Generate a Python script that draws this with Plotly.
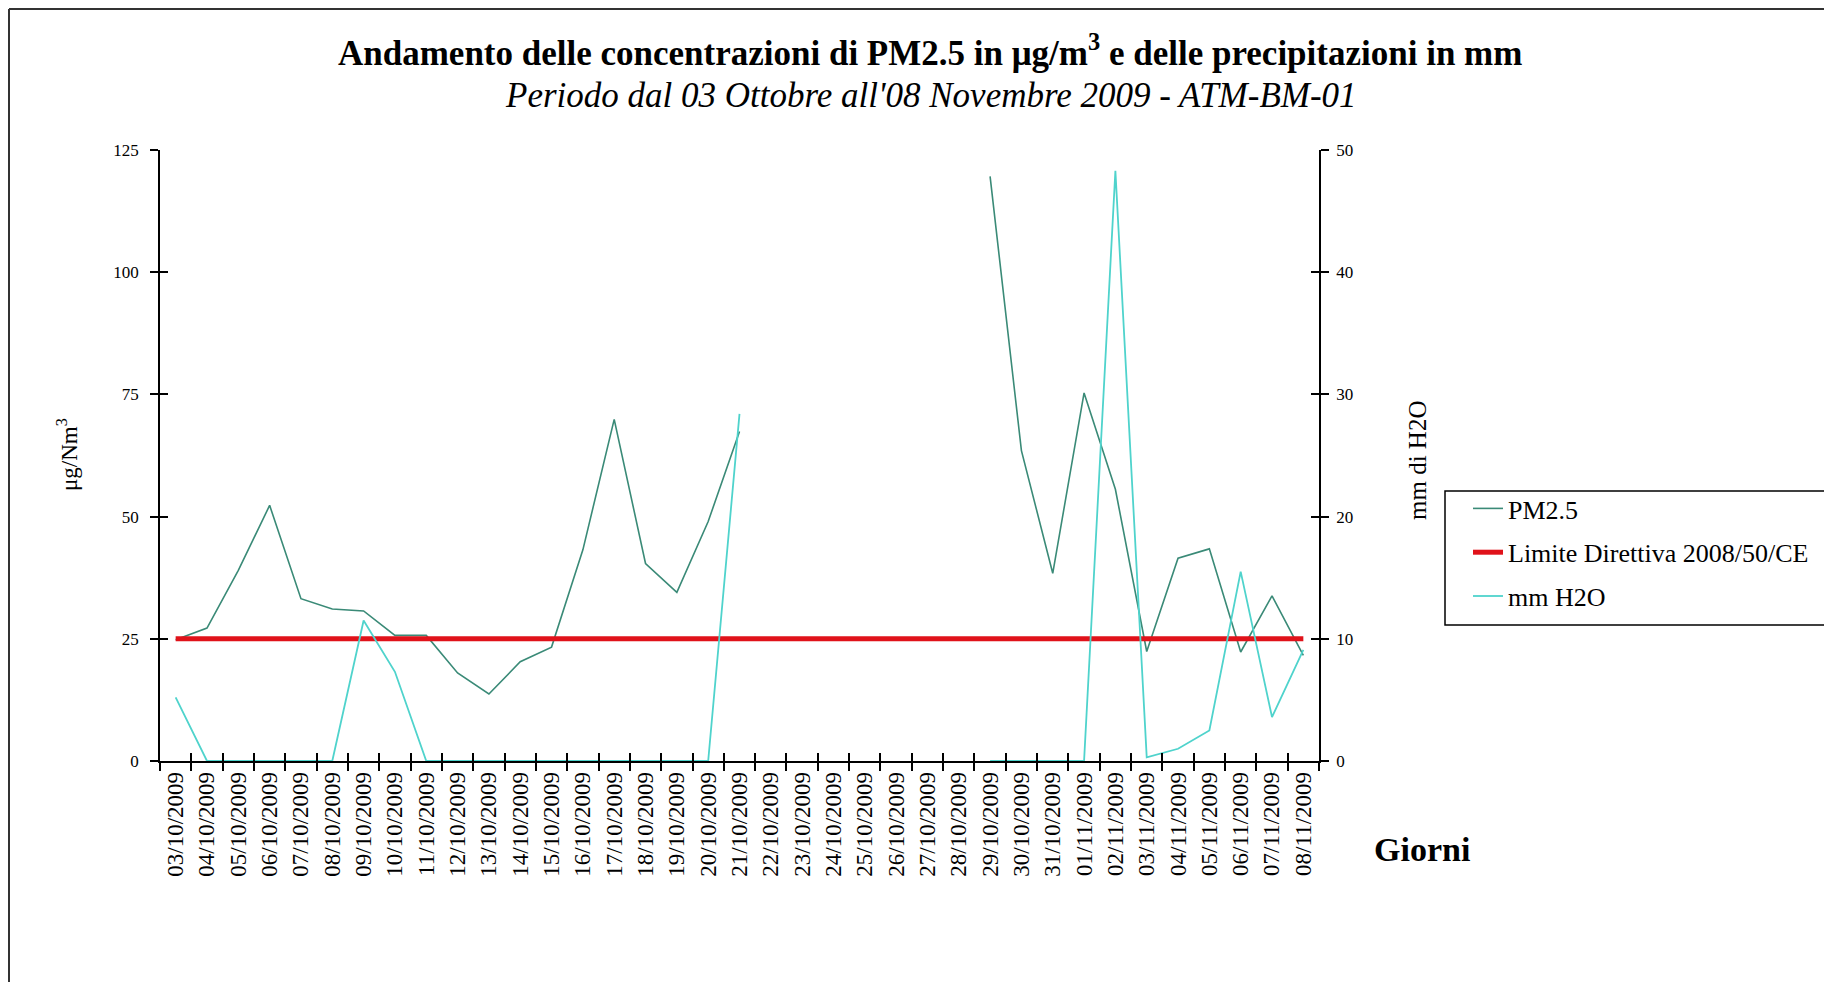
import plotly.graph_objects as go

dates = ["03/10/2009", "04/10/2009", "05/10/2009", "06/10/2009", "07/10/2009", "08/10/2009",
         "09/10/2009", "10/10/2009", "11/10/2009", "12/10/2009", "13/10/2009", "14/10/2009",
         "15/10/2009", "16/10/2009", "17/10/2009", "18/10/2009", "19/10/2009", "20/10/2009",
         "21/10/2009", "22/10/2009", "23/10/2009", "24/10/2009", "25/10/2009", "26/10/2009",
         "27/10/2009", "28/10/2009", "29/10/2009", "30/10/2009", "31/10/2009", "01/11/2009",
         "02/11/2009", "03/11/2009", "04/11/2009", "05/11/2009", "06/11/2009", "07/11/2009",
         "08/11/2009"]

pm25 = [24.8, 27.2, 39.0, 52.3, 33.2, 31.1, 30.7, 25.7, 25.7, 18.0, 13.7, 20.3, 23.3, 43.2,
        69.9, 40.4, 34.5, 49.0, 67.4, None, None, None, None, None, None, None,
        119.6, 63.5, 38.4, 75.3, 55.6, 22.4, 41.5, 43.4, 22.3, 33.8, 21.6]

limite = [25] * 37

mm_h2o = [5.2, 0, 0, 0, 0, 0, 11.5, 7.3, 0, 0, 0, 0, 0, 0, 0, 0, 0, 0, 28.4,
          None, None, None, None, None, None, None,
          0, 0, 0, 0, 48.3, 0.3, 1.0, 2.5, 15.5, 3.6, 9.1]

left_ticks = [0, 25, 50, 75, 100, 125]
right_ticks = [0, 10, 20, 30, 40, 50]

SERIF = "Liberation Serif"
PM_COLOR = "#3A8A77"
H2O_COLOR = "#4FD3CC"
RED = "#E0121A"

fig = go.Figure()

fig.add_trace(go.Scatter(x=dates, y=pm25, name="PM2.5", mode="lines",
                         line=dict(color=PM_COLOR, width=1.6), connectgaps=False,
                         legendgroup="a", xaxis="x", yaxis="y"))
fig.add_trace(go.Scatter(x=dates, y=limite, name="Limite Direttiva 2008/50/CE", mode="lines",
                         line=dict(color=RED, width=5), legendgroup="b", xaxis="x", yaxis="y"))
fig.add_trace(go.Scatter(x=dates, y=mm_h2o, name="mm H2O", mode="lines",
                         line=dict(color=H2O_COLOR, width=1.8), connectgaps=False,
                         legendgroup="c", xaxis="x", yaxis="y2"))
# invisible helper traces for the inner halves of the crossing tick marks
fig.add_trace(go.Scatter(x=dates, y=[None] * 37, showlegend=False, hoverinfo="skip",
                         xaxis="x2", yaxis="y3"))
fig.add_trace(go.Scatter(x=dates, y=[None] * 37, showlegend=False, hoverinfo="skip",
                         xaxis="x2", yaxis="y4"))

# page body has an 8px margin: work in screen coordinates and shift
OFF = 8
W, H = 1832 - OFF, 982 - OFF
L, R, T, B = 160 - OFF, 1319 - OFF, 150 - OFF, 761 - OFF


def px(X):
    return (X - OFF - L) / (R - L)


def py(Y):
    return (B - (Y - OFF)) / (B - T)


axis_common = dict(showgrid=False, zeroline=False, color="black")

fig.update_layout(
    width=W, height=H, autosize=False,
    margin=dict(l=L, r=W - R, t=T, b=H - B, pad=0),
    paper_bgcolor="white", plot_bgcolor="white",
    font=dict(family=SERIF, color="black", size=16),
    showlegend=True,
    xaxis=dict(type="category", categoryorder="array", categoryarray=dates,
               range=[-0.5, 36.5], tickson="boundaries", ticks="outside", ticklen=8,
               tickwidth=1.5, tickcolor="black", showline=True, linecolor="black",
               linewidth=1.5, tickangle=-90, tickfont=dict(family=SERIF, size=23),
               ticklabelstandoff=0, anchor="y", **axis_common),
    xaxis2=dict(type="category", categoryorder="array", categoryarray=dates,
                range=[-0.5, 36.5], tickson="boundaries", ticks="inside", ticklen=8,
                tickwidth=1.5, tickcolor="black", showline=False, showticklabels=False,
                overlaying="x", anchor="y3", **axis_common),
    yaxis=dict(range=[0, 125], tickvals=left_ticks, ticks="outside", ticklen=8,
               tickwidth=1.5, tickcolor="black", showline=True, linecolor="black",
               linewidth=1.5, tickfont=dict(family=SERIF, size=17), anchor="x",
               ticklabelstandoff=8, **axis_common),
    yaxis2=dict(range=[0, 50], tickvals=right_ticks, ticks="outside", ticklen=8,
                tickwidth=1.5, tickcolor="black", showline=True, linecolor="black",
                linewidth=1.5, tickfont=dict(family=SERIF, size=17), side="right",
                overlaying="y", anchor="x", ticklabelstandoff=4, **axis_common),
    yaxis3=dict(range=[0, 125], tickvals=left_ticks, ticks="inside", ticklen=8,
                tickwidth=1.5, tickcolor="black", showline=False, showticklabels=False,
                overlaying="y", anchor="x2", side="left", **axis_common),
    yaxis4=dict(range=[0, 50], tickvals=right_ticks, ticks="inside", ticklen=8,
                tickwidth=1.5, tickcolor="black", showline=False, showticklabels=False,
                overlaying="y", anchor="x2", side="right", **axis_common),
    legend=dict(x=px(1468), y=py(485), xanchor="left", yanchor="top",
                bgcolor="rgba(0,0,0,0)", borderwidth=0, tracegroupgap=7,
                font=dict(family=SERIF, size=26, color="black"), itemwidth=30),
)

annotations = [
    dict(text="<b>Andamento delle concentrazioni di PM2.5 in μg/m<sup>3</sup> e delle precipitazioni in mm</b>",
         x=px(930), y=py(51), font=dict(family=SERIF, size=35, color="black")),
    dict(text="<i>Periodo dal 03 Ottobre all'08 Novembre 2009 - ATM-BM-01</i>",
         x=px(931), y=py(96), font=dict(family=SERIF, size=35, color="black")),
    dict(text="μg/Nm<sup>3</sup>", x=px(67), y=py(455), textangle=-90,
         font=dict(family=SERIF, size=23, color="black")),
    dict(text="mm di H2O", x=px(1417), y=py(460), textangle=-90,
         font=dict(family=SERIF, size=25, color="black")),
    dict(text="<b>Giorni</b>", x=px(1422), y=py(849),
         font=dict(family=SERIF, size=34, color="black")),
]
for a in annotations:
    a.update(xref="paper", yref="paper", showarrow=False, xanchor="center", yanchor="middle")
fig.update_layout(annotations=annotations)

shapes = [
    # legend frame
    dict(type="rect", xref="paper", yref="paper", x0=px(1445), x1=px(1829), y0=py(491), y1=py(625),
         line=dict(color="black", width=1.5), fillcolor="rgba(0,0,0,0)"),
    # chart outer frame (left and top edges)
    dict(type="line", xref="paper", yref="paper", x0=px(9), x1=px(1832), y0=py(9), y1=py(9),
         line=dict(color="#333333", width=2)),
    dict(type="line", xref="paper", yref="paper", x0=px(9), x1=px(9), y0=py(9), y1=py(982),
         line=dict(color="#333333", width=2)),
]
fig.update_layout(shapes=shapes)

fig.write_html("out.html")
